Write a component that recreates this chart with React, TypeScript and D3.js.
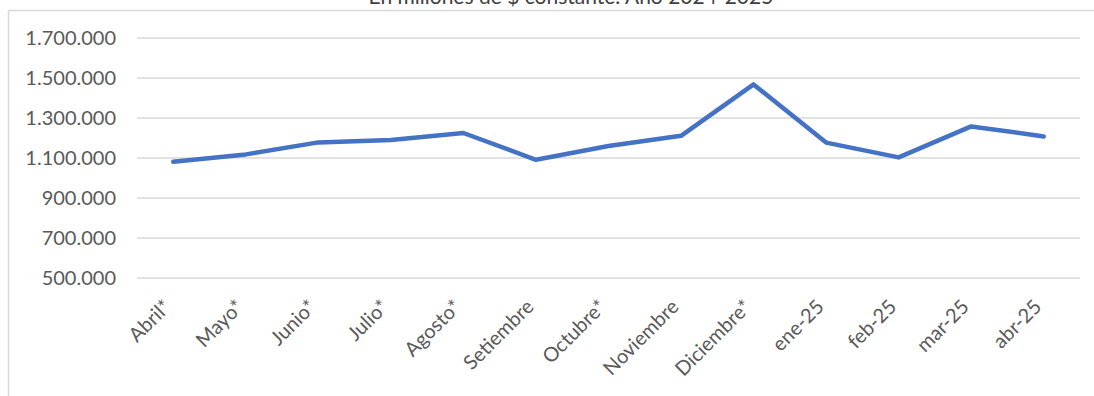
import * as d3 from "d3";
import React from "react";

// months shown on the x axis
const months = [
  "Abril*", "Mayo*", "Junio*", "Julio*", "Agosto*", "Setiembre", "Octubre*",
  "Noviembre", "Diciembre*", "ene-25", "feb-25", "mar-25", "abr-25",
];
// amounts in millions of constant $
const amounts = [
  1081000, 1118000, 1178000, 1190000, 1225000, 1091000, 1160000,
  1211000, 1468000, 1177000, 1103000, 1258000, 1208000,
];
const yTicks = [500000, 700000, 900000, 1100000, 1300000, 1500000, 1700000];
const title = "En millones de $ constante. Año 2024-2025";

const width = 1094;
const height = 396;
const plotLeft = 137;
const plotRight = 1080;
const plotTop = 38;
const plotBottom = 278;

const font = "Lato, 'Open Sans', sans-serif";
const textColor = "#595959";
const gridColor = "#D9D9D9";

const x = d3.scalePoint<string>().domain(months).range([plotLeft, plotRight]).padding(0.5);
const y = d3.scaleLinear().domain([500000, 1700000]).range([plotBottom, plotTop]);

const fmt = (v: number) => d3.format(",")(v).replace(/,/g, ".");

const lineGen = d3
  .line<number>()
  .x((_, i) => x(months[i]) as number)
  .y((d) => y(d));

const App = () => {
  return (
    <svg
      width={width}
      height={height}
      style={{ position: "absolute", left: 0, top: 0, background: "#fff" }}
    >
      {/* chart area border */}
      <rect x={8.5} y={10.5} width={1100} height={420} fill="#fff" stroke={gridColor} strokeWidth={1.5} />
      {/* title sits mostly above the frame, as in the source image */}
      <text x={571} y={4} textAnchor="middle" fontFamily={font} fontSize={21} fill="#404040">
        {title}
      </text>
      {yTicks.map((t) => (
        <g key={t}>
          <line x1={plotLeft} x2={plotRight} y1={y(t)} y2={y(t)} stroke={gridColor} strokeWidth={1.5} />
          <text
            x={116}
            y={y(t)}
            dy="0.36em"
            textAnchor="end"
            fontFamily={font}
            fontSize={20}
            fill={textColor}
          >
            {fmt(t)}
          </text>
        </g>
      ))}
      {months.map((m) => (
        <text
          key={m}
          transform={`translate(${(x(m) as number) - 1},${308}) rotate(-45)`}
          textAnchor="end"
          fontFamily={font}
          fontSize={20}
          fill={textColor}
        >
          {m}
        </text>
      ))}
      <path
        d={lineGen(amounts) ?? ""}
        fill="none"
        stroke="#4472C4"
        strokeWidth={4.5}
        strokeLinejoin="round"
        strokeLinecap="round"
      />
    </svg>
  );
};

export default App;
